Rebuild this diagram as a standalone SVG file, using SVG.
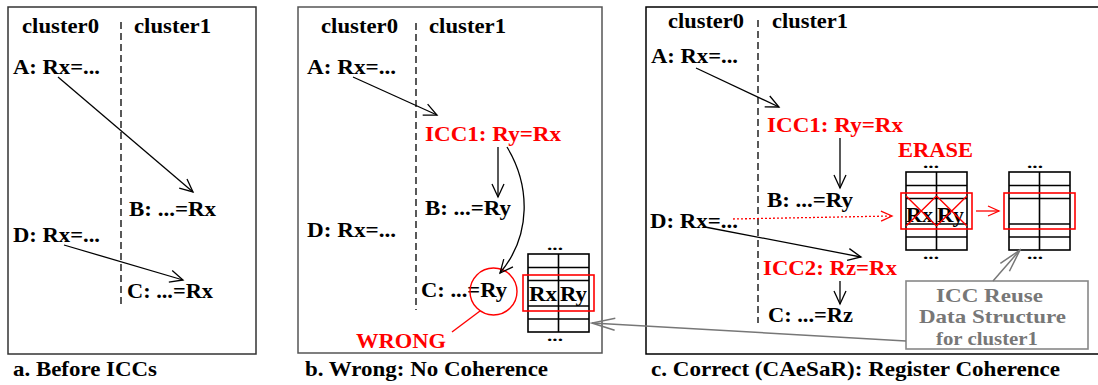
<svg xmlns="http://www.w3.org/2000/svg" width="1098" height="385" viewBox="0 0 1098 385">
<style>
text { font-family: "Liberation Serif", "Times New Roman", serif; font-weight: bold; font-size: 22px; fill: #000; }
text.red { fill: #ff0000; }
text.gray { fill: #777777; font-size: 19px; }
text.dots { font-size: 15px; }
.frame { fill: none; stroke-width: 1.5; }
.dash { stroke: #000; stroke-width: 1.3; stroke-dasharray: 7 4; fill: none; }
.arr { stroke: #000; stroke-width: 1.3; fill: none; marker-end: url(#mb); }
.arr-red { stroke: #ff0000; stroke-width: 1.3; fill: none; marker-end: url(#mr); }
.dot-red { stroke: #ff0000; stroke-width: 1.3; stroke-dasharray: 2 2; fill: none; marker-end: url(#mr); }
.arr-gray { stroke: #777777; stroke-width: 1.5; fill: none; marker-end: url(#mg); }
.grid { stroke: #000; stroke-width: 1.6; fill: none; }
.redbox { stroke: #ff0000; stroke-width: 1.6; fill: none; }
.redline { stroke: #ff0000; stroke-width: 1.4; fill: none; }
</style>
<defs>
<marker id="mb" viewBox="-15 -8 17 16" refX="0" refY="0" markerWidth="17" markerHeight="16" markerUnits="userSpaceOnUse" orient="auto">
<path d="M-13,-6 L0,0 L-13,6" fill="none" stroke="#000" stroke-width="1.3"/>
</marker>
<marker id="mr" viewBox="-13 -7 15 14" refX="0" refY="0" markerWidth="15" markerHeight="14" markerUnits="userSpaceOnUse" orient="auto">
<path d="M-11,-5 L0,0 L-11,5" fill="none" stroke="#ff0000" stroke-width="1.3"/>
</marker>
<marker id="mg" viewBox="-25 -8 27 16" refX="0" refY="0" markerWidth="27" markerHeight="16" markerUnits="userSpaceOnUse" orient="auto">
<path d="M-23,-6 L0,0 L-23,6" fill="none" stroke="#777777" stroke-width="1.5"/>
</marker>
<g id="grid">
<rect x="0" y="0" width="61" height="78" class="grid"/>
<line x1="30.5" y1="0" x2="30.5" y2="78" class="grid"/>
<line x1="0" y1="13.5" x2="61" y2="13.5" class="grid"/>
<line x1="0" y1="26.5" x2="61" y2="26.5" class="grid"/>
<line x1="0" y1="52" x2="61" y2="52" class="grid"/>
<line x1="0" y1="65" x2="61" y2="65" class="grid"/>
</g>
</defs>
<rect width="1098" height="385" fill="#fff"/>

<!-- Panel a -->
<g id="panel-a">
<rect x="8" y="7" width="248" height="347" class="frame" stroke="#333"/>
<line x1="121" y1="22" x2="121" y2="307" class="dash"/>
<g id="a-cluster0"><text x="22" y="33" textLength="77" lengthAdjust="spacingAndGlyphs">cluster0</text></g>
<g id="a-cluster1"><text x="134" y="33" textLength="77" lengthAdjust="spacingAndGlyphs">cluster1</text></g>
<g id="a-A"><text x="13" y="74" textLength="87" lengthAdjust="spacingAndGlyphs">A: Rx=...</text></g>
<g id="a-B"><text x="129" y="216" textLength="87" lengthAdjust="spacingAndGlyphs">B: ...=Rx</text></g>
<g id="a-D"><text x="13" y="242" textLength="87" lengthAdjust="spacingAndGlyphs">D: Rx=...</text></g>
<g id="a-C"><text x="127" y="298" textLength="86" lengthAdjust="spacingAndGlyphs">C: ...=Rx</text></g>
<g id="a-caption"><text x="13" y="376" textLength="144" lengthAdjust="spacingAndGlyphs">a. Before ICCs</text></g>
</g>

<!-- Panel b -->
<g id="panel-b">
<rect x="298" y="7" width="304" height="346" class="frame" stroke="#555"/>
<line x1="416" y1="23" x2="416" y2="310" class="dash"/>
<g id="b-cluster0"><text x="321" y="33" textLength="77" lengthAdjust="spacingAndGlyphs">cluster0</text></g>
<g id="b-cluster1"><text x="429" y="33" textLength="77" lengthAdjust="spacingAndGlyphs">cluster1</text></g>
<g id="b-A"><text x="307" y="74" textLength="89" lengthAdjust="spacingAndGlyphs">A: Rx=...</text></g>
<g id="b-ICC1"><text class="red" x="425" y="141" textLength="136" lengthAdjust="spacingAndGlyphs">ICC1: Ry=Rx</text></g>
<g id="b-B"><text x="425" y="215" textLength="86" lengthAdjust="spacingAndGlyphs">B: ...=Ry</text></g>
<g id="b-D"><text x="307" y="237" textLength="89" lengthAdjust="spacingAndGlyphs">D: Rx=...</text></g>
<g id="b-C"><text x="421" y="297" textLength="86" lengthAdjust="spacingAndGlyphs">C: ...=Ry</text></g>
<g id="b-wrong">
<circle cx="493.5" cy="291.5" r="23.5" class="redline"/>
<line x1="480" y1="311" x2="452" y2="332" class="redline"/>
<text class="red" x="356" y="348" textLength="90" lengthAdjust="spacingAndGlyphs">WRONG</text>
</g>
<g id="b-table">
<text class="dots" x="547" y="250" textLength="16" lengthAdjust="spacingAndGlyphs">...</text>
<use href="#grid" x="528" y="254"/>
<text x="529" y="301" textLength="28" lengthAdjust="spacingAndGlyphs">Rx</text>
<text x="560" y="301" textLength="27" lengthAdjust="spacingAndGlyphs">Ry</text>
<rect x="523" y="275" width="71" height="36" class="redbox"/>
<text class="dots" x="547" y="341" textLength="16" lengthAdjust="spacingAndGlyphs">...</text>
</g>
<g id="b-caption"><text x="305" y="376" textLength="243" lengthAdjust="spacingAndGlyphs">b. Wrong: No Coherence</text></g>
</g>

<!-- Panel c -->
<g id="panel-c">
<path d="M1100,7 H646 V354 H1100" class="frame" stroke="#000"/>
<line x1="758" y1="20" x2="758" y2="323" class="dash"/>
<g id="c-cluster0"><text x="668" y="28" textLength="76" lengthAdjust="spacingAndGlyphs">cluster0</text></g>
<g id="c-cluster1"><text x="772" y="28" textLength="76" lengthAdjust="spacingAndGlyphs">cluster1</text></g>
<g id="c-A"><text x="651" y="63" textLength="87" lengthAdjust="spacingAndGlyphs">A: Rx=...</text></g>
<g id="c-ICC1"><text class="red" x="767" y="132" textLength="136" lengthAdjust="spacingAndGlyphs">ICC1: Ry=Rx</text></g>
<g id="c-erase"><text class="red" x="898" y="157" textLength="75" lengthAdjust="spacingAndGlyphs">ERASE</text></g>
<g id="c-B"><text x="767" y="207" textLength="86" lengthAdjust="spacingAndGlyphs">B: ...=Ry</text></g>
<g id="c-D"><text x="650" y="228" textLength="88" lengthAdjust="spacingAndGlyphs">D: Rx=...</text></g>
<g id="c-ICC2"><text class="red" x="763" y="275" textLength="134" lengthAdjust="spacingAndGlyphs">ICC2: Rz=Rx</text></g>
<g id="c-C"><text x="768" y="322" textLength="85" lengthAdjust="spacingAndGlyphs">C: ...=Rz</text></g>
<g id="c-table1">
<text class="dots" x="923" y="168" textLength="16" lengthAdjust="spacingAndGlyphs">...</text>
<use href="#grid" x="906" y="172"/>
<text x="906" y="222" textLength="27" lengthAdjust="spacingAndGlyphs">Rx</text>
<text x="937" y="222" textLength="27" lengthAdjust="spacingAndGlyphs">Ry</text>
<rect x="901" y="193" width="71" height="36" class="redbox"/>
<path d="M906,196 L936.5,226 M906,226 L936.5,196 M936.5,196 L967,226 M936.5,226 L967,196" class="redline"/>
<text class="dots" x="923" y="259" textLength="16" lengthAdjust="spacingAndGlyphs">...</text>
</g>
<g id="c-table2">
<text class="dots" x="1027" y="168" textLength="16" lengthAdjust="spacingAndGlyphs">...</text>
<use href="#grid" x="1009" y="172"/>
<rect x="1004" y="193" width="71" height="36" class="redbox"/>
<text class="dots" x="1027" y="259" textLength="16" lengthAdjust="spacingAndGlyphs">...</text>
</g>
<g id="c-reuse">
<rect x="906" y="281" width="182" height="68" fill="#fff" stroke="#888" stroke-width="1.6"/>
<text class="gray" x="936" y="302" textLength="107" lengthAdjust="spacingAndGlyphs">ICC Reuse</text>
<text class="gray" x="919" y="323" textLength="147" lengthAdjust="spacingAndGlyphs">Data Structure</text>
<text class="gray" x="936" y="345" textLength="102" lengthAdjust="spacingAndGlyphs">for cluster1</text>
</g>
<g id="c-caption"><text x="651" y="376" textLength="409" lengthAdjust="spacingAndGlyphs">c. Correct (CAeSaR): Register Coherence</text></g>
</g>

<!-- Connectors -->
<g id="connectors">
<line x1="58" y1="77" x2="193" y2="192" class="arr"/>
<line x1="64" y1="245" x2="183" y2="280" class="arr"/>
<line x1="353" y1="77" x2="437" y2="115" class="arr"/>
<line x1="498" y1="147" x2="498" y2="197" class="arr"/>
<path d="M507,147 C530,185 532,235 500,273" class="arr"/>
<line x1="696" y1="68" x2="779" y2="107" class="arr"/>
<line x1="840" y1="138" x2="840" y2="188" class="arr"/>
<line x1="733" y1="219" x2="892" y2="216" class="dot-red"/>
<line x1="705" y1="227" x2="861" y2="257" class="arr"/>
<line x1="840" y1="281" x2="840" y2="304" class="arr"/>
<line x1="976" y1="211" x2="999" y2="211" class="arr-red"/>
<line x1="993" y1="281" x2="1020" y2="250" class="arr-gray"/>
<line x1="906" y1="341" x2="592" y2="323" class="arr-gray"/>
</g>
</svg>
